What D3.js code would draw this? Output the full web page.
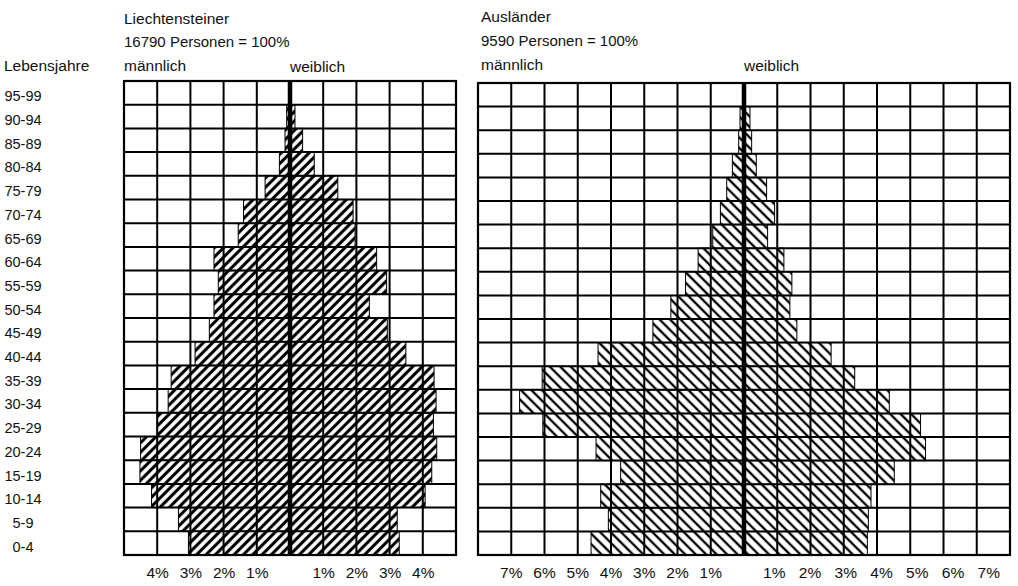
<!DOCTYPE html>
<html><head><meta charset="utf-8">
<script src="https://cdn.jsdelivr.net/npm/d3@7/dist/d3.min.js"></script>
<style>
body{margin:0;background:#fff}
text{font-family:"Liberation Sans",Arial,Helvetica,sans-serif;fill:#111}
</style>
</head><body>
<svg id="c" width="1018" height="586"></svg>
<script>
// ---- data (percent of each population), ordered from youngest to oldest ----
const ageGroups = ["0-4","5-9","10-14","15-19","20-24","25-29","30-34","35-39","40-44","45-49",
                   "50-54","55-59","60-64","65-69","70-74","75-79","80-84","85-89","90-94","95-99"];
const liMale   = [3.06,3.36,4.17,4.52,4.50,4.00,3.67,3.58,2.86,2.43,2.29,2.16,2.29,1.56,1.40,0.75,0.32,0.15,0.10,0.04];
const liFemale = [3.29,3.23,4.07,4.27,4.42,4.32,4.40,4.34,3.49,2.93,2.39,2.91,2.61,1.96,1.90,1.44,0.73,0.38,0.15,0.04];
const auMale   = [4.60,4.08,4.31,3.71,4.45,6.05,6.75,6.07,4.39,2.74,2.20,1.76,1.38,0.94,0.71,0.52,0.35,0.16,0.12,0.04];
const auFemale = [3.71,3.74,3.82,4.52,5.46,5.31,4.37,3.33,2.62,1.59,1.38,1.44,1.20,0.71,0.92,0.68,0.37,0.23,0.18,0.04];
const liTicks = [1,2,3,4];
const auTicks = [1,2,3,4,5,6,7];
const liTitle = ["Liechtensteiner", "16790 Personen = 100%"];
const auTitle = ["Ausländer", "9590 Personen = 100%"];
const sexLabels = ["männlich","weiblich"];
const rowTitle = "Lebensjahre";

const svg = d3.select("#c");
const defs = svg.append("defs");
function hatch(id, angle, period, sw){
  const p = defs.append("pattern").attr("id",id).attr("patternUnits","userSpaceOnUse")
    .attr("width",period).attr("height",period).attr("patternTransform",`rotate(${angle})`);
  p.append("rect").attr("width",period).attr("height",period).attr("fill","#fff");
  p.append("line").attr("x1",period/2).attr("x2",period/2).attr("y1",-1).attr("y2",period+1)
    .attr("stroke","#000").attr("stroke-width",sw);
}
hatch("hL", 45, 6.6, 3.1);
hatch("hR", -45, 7.4, 2.3);

const fs = 15.5;

function panel(o){
  const g = svg.append("g");
  const x = d3.scaleLinear().domain([-o.max, o.max]).range([o.x0, o.x1]);
  const y = d3.scaleBand().domain(ageGroups.slice().reverse()).range([o.top, o.bottom]);
  g.append("rect").attr("x",x(-o.max)).attr("y",o.top).attr("width",x(o.max)-x(-o.max))
    .attr("height",o.bottom-o.top).attr("fill","#fff");
  g.selectAll(".m").data(ageGroups).join("rect")
    .attr("x",(d,i)=>x(-o.male[i])).attr("width",(d,i)=>x(0)-x(-o.male[i]))
    .attr("y",d=>y(d)).attr("height",y.bandwidth())
    .attr("fill",`url(#${o.pat})`).attr("stroke","#000").attr("stroke-width",1);
  g.selectAll(".f").data(ageGroups).join("rect")
    .attr("x",x(0)).attr("width",(d,i)=>x(o.female[i])-x(0))
    .attr("y",d=>y(d)).attr("height",y.bandwidth())
    .attr("fill",`url(#${o.pat})`).attr("stroke","#000").attr("stroke-width",1);
  g.selectAll(".v").data(d3.range(-o.max, o.max+1)).join("line")
    .attr("x1",d=>x(d)).attr("x2",d=>x(d)).attr("y1",o.top).attr("y2",o.bottom)
    .attr("stroke","#000").attr("stroke-width",d=>d===0?4.5:2);
  g.selectAll(".h").data(ageGroups).join("line")
    .attr("x1",x(-o.max)).attr("x2",x(o.max)).attr("y1",d=>y(d)).attr("y2",d=>y(d))
    .attr("stroke","#000").attr("stroke-width",2);
  g.append("rect").attr("x",x(-o.max)).attr("y",o.top).attr("width",x(o.max)-x(-o.max))
    .attr("height",o.bottom-o.top).attr("fill","none").attr("stroke","#000").attr("stroke-width",2.2);
  const tv = o.ticks.map(t=>-t).concat(o.ticks);
  const ax = g.append("g").attr("transform",`translate(0,${o.bottom})`)
    .call(d3.axisBottom(x).tickValues(tv).tickSize(0).tickPadding(12).tickFormat(d=>Math.abs(d)+"%"));
  ax.select(".domain").remove();
  ax.selectAll("text").attr("font-size",fs).attr("font-family","Liberation Sans, Arial, sans-serif")
    .attr("fill","#111").attr("dy","0.71em");
  if (o.stretch) ax.selectAll(".tick").attr("transform",d=>`translate(${x(d)+(d>0?o.shift+(d-1)*o.stretch:0)},0)`);
  const tg = g.append("g").attr("font-size",fs);
  tg.append("text").attr("x",o.tx).attr("y",o.ty[0]).text(o.title[0]);
  tg.append("text").attr("x",o.tx).attr("y",o.ty[1]).attr("font-size",15).text(o.title[1]);
  tg.append("text").attr("x",o.tx).attr("y",o.ty[2]).text(sexLabels[0]);
  tg.append("text").attr("x",x(0)).attr("y",o.ty[2]+1).text(sexLabels[1]);
  return y;
}

const yL = panel({x0:124,x1:456,max:5,top:81,bottom:555,male:liMale,female:liFemale,ticks:liTicks,pat:"hL",
  title:liTitle,tx:124,ty:[24,47,71]});
panel({x0:478,x1:1010,max:8,top:83,bottom:555,male:auMale,female:auFemale,ticks:auTicks,pat:"hR",
  title:auTitle,tx:481,ty:[22,46,70],shift:-3,stretch:2.5});

svg.append("text").attr("x",4).attr("y",71).attr("font-size",fs).text(rowTitle);
svg.append("g").selectAll("text").data(ageGroups).join("text")
  .attr("x",23).attr("y",d=>yL(d)+yL.bandwidth()/2+8.5).attr("text-anchor","middle")
  .attr("font-size",fs-1).text(d=>d);
</script>
</body></html>
